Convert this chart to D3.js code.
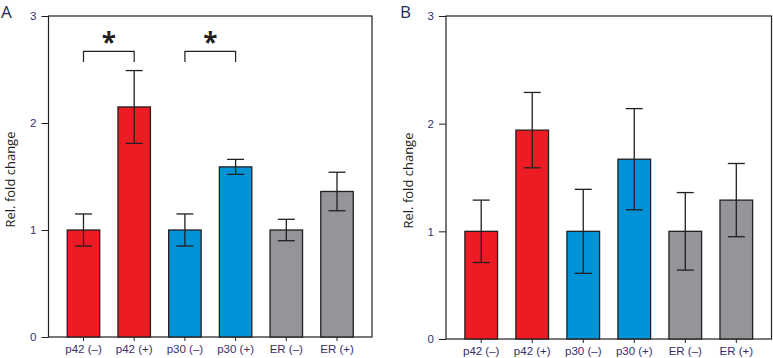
<!DOCTYPE html>
<html>
<head>
<meta charset="utf-8">
<script src="https://cdn.jsdelivr.net/npm/d3@7"></script>
<style>
  body { margin: 0; background: #fff; }
  svg { display: block; font-family: "Open Sans", "DejaVu Sans", sans-serif; }
  .axis path { display: none; }
  .axis line { stroke: #231f20; stroke-width: 1; }
  .axis text { fill: #35306b; font-size: 11.5px; }
</style>
</head>
<body>
<svg width="773" height="358"></svg>
<script>
const groups = ["p42 (–)", "p42 (+)", "p30 (–)", "p30 (+)", "ER (–)", "ER (+)"];
const colors = ["#ed1c24", "#ed1c24", "#0093d8", "#0093d8", "#939598", "#939598"];
const yTicks = [0, 1, 2, 3];

const meanA = [1.0, 2.15, 1.0, 1.59, 1.0, 1.36];
const errA  = [0.15, 0.34, 0.15, 0.07, 0.10, 0.18];
const meanB = [1.0, 1.94, 1.0, 1.67, 1.0, 1.29];
const errB  = [0.29, 0.35, 0.39, 0.47, 0.36, 0.34];

// significance brackets in panel A: [from index, to index]
const sigA = [[0, 1], [2, 3]];

const svg = d3.select("svg");

function panel(opt) {
  const x = d3.scaleBand().domain(groups).range([opt.left, opt.right])
    .paddingInner(0.36).paddingOuter(0.37);
  const y = d3.scaleLinear().domain([0, 3]).range([opt.bottom, opt.top]);
  const g = svg.append("g");

  // frame
  g.append("rect")
    .attr("x", opt.left).attr("y", opt.top)
    .attr("width", opt.right - opt.left).attr("height", opt.bottom - opt.top)
    .attr("fill", "none").attr("stroke", "#231f20").attr("stroke-width", 1.2);

  g.append("g").attr("class", "axis")
    .attr("transform", `translate(${opt.left},0)`)
    .call(d3.axisLeft(y).tickValues(yTicks).tickSize(7).tickPadding(5).tickFormat(d3.format("d")));

  g.append("g").attr("class", "axis")
    .attr("transform", `translate(0,${opt.bottom})`)
    .call(d3.axisBottom(x).tickSize(4).tickPadding(3))
    .selectAll("text").attr("dy", "0.8em");

  g.selectAll(".bar").data(opt.mean).enter().append("rect")
    .attr("x", (d, i) => x(groups[i]))
    .attr("y", d => y(d))
    .attr("width", x.bandwidth())
    .attr("height", d => y(0) - y(d))
    .attr("fill", (d, i) => colors[i])
    .attr("stroke", "#231f20").attr("stroke-width", 1.3);

  const cap = 8.5;
  opt.mean.forEach((m, i) => {
    const cx = x(groups[i]) + x.bandwidth() / 2;
    const lo = y(m - opt.err[i]), hi = y(m + opt.err[i]);
    const eg = g.append("g").attr("stroke", "#231f20").attr("stroke-width", 1.3);
    eg.append("line").attr("x1", cx).attr("x2", cx).attr("y1", lo).attr("y2", hi);
    eg.append("line").attr("x1", cx - cap).attr("x2", cx + cap).attr("y1", hi).attr("y2", hi);
    eg.append("line").attr("x1", cx - cap).attr("x2", cx + cap).attr("y1", lo).attr("y2", lo);
  });

  (opt.sig || []).forEach(([a, b]) => {
    const x1 = x(groups[a]) + x.bandwidth() / 2, x2 = x(groups[b]) + x.bandwidth() / 2;
    const yt = y(2.67), yb = y(2.57);
    g.append("path")
      .attr("d", `M${x1},${yb}V${yt}H${x2}V${yb}`)
      .attr("fill", "none").attr("stroke", "#231f20").attr("stroke-width", 1.2);
    g.append("text").attr("x", (x1 + x2) / 2).attr("y", y(2.67) - 14)
      .attr("text-anchor", "middle").attr("font-size", 26).attr("font-weight", "bold")
      .attr("fill", "#231f20").attr("dy", "0.55em")
      .text("*");
  });

  g.append("text")
    .attr("transform", `translate(${opt.titleX},${(opt.top + opt.bottom) / 2 + 3}) rotate(-90)`)
    .attr("text-anchor", "middle").attr("dy", "0.35em")
    .attr("font-size", 13).attr("fill", "#231f20")
    .text("Rel. fold change");

  g.append("text").attr("x", opt.letterX).attr("y", 18)
    .attr("font-size", 17).attr("fill", "#1f2a4d")
    .text(opt.letter);
}

panel({ left: 48.5, right: 372, top: 16, bottom: 337, mean: meanA, err: errA, sig: sigA,
        titleX: 10, letter: "A", letterX: 1 });
panel({ left: 446, right: 771.5, top: 16, bottom: 339, mean: meanB, err: errB,
        titleX: 408, letter: "B", letterX: 400 });
</script>
</body>
</html>
